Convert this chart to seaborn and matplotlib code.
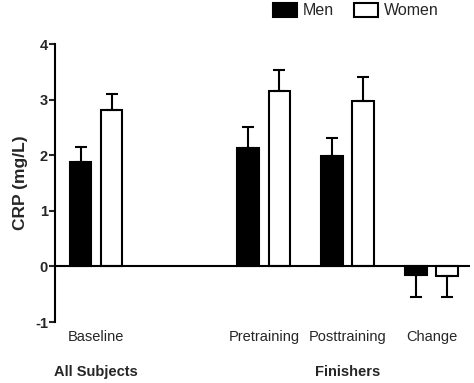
import matplotlib
matplotlib.use("Agg")
import matplotlib.pyplot as plt
import seaborn as sns
import pandas as pd
import numpy as np
from matplotlib.patches import Patch

sns.set_style("white")
plt.rcParams['font.family'] = ['Liberation Sans', 'DejaVu Sans']

categories = ["Baseline", "", "Pretraining", "Posttraining", "Change"]
men_values = [1.88, np.nan, 2.13, 1.98, -0.16]
men_err = [0.27, np.nan, 0.38, 0.33, 0.39]
women_values = [2.82, np.nan, 3.15, 2.97, -0.17]
women_err = [0.29, np.nan, 0.39, 0.44, 0.37]
series = ["Men", "Women"]
group_labels = ["All Subjects", "Finishers"]
group_at = ["Baseline", "Posttraining"]

rows = []
for i, c in enumerate(categories):
    rows.append({"cat": c, "sex": "Men", "val": men_values[i], "err": men_err[i]})
    rows.append({"cat": c, "sex": "Women", "val": women_values[i], "err": women_err[i]})
df = pd.DataFrame(rows)

fig = plt.figure(figsize=(4.74, 3.83), dpi=100)
ax = fig.add_axes([0.116, 0.159, 0.876, 0.726])

sns.barplot(data=df, x="cat", y="val", hue="sex", order=categories,
            hue_order=series, palette={"Men": "black", "Women": "white"},
            edgecolor="black", linewidth=1.5, width=0.74, gap=0.3,
            errorbar=None, legend=False, ax=ax)

# one-sided error bars, matched to each bar by its category slot and side
errs = {"Men": men_err, "Women": women_err}
vals = {"Men": men_values, "Women": women_values}
for bar in ax.patches:
    h = bar.get_height()
    if np.isnan(h) or bar.get_width() == 0:
        continue
    xc = bar.get_x() + bar.get_width() / 2
    idx = int(round(xc))
    s = "Men" if xc < idx else "Women"
    v = vals[s][idx]
    e = errs[s][idx]
    if np.isnan(v):
        continue
    yerr = [[0], [e]] if v >= 0 else [[e], [0]]
    ax.errorbar([xc], [v], yerr=yerr, fmt="none", ecolor="black",
                elinewidth=1.5, capsize=4.3, capthick=1.5, zorder=1)

ax.set_xlim(-0.49, 4.46)
ax.set_ylim(-1, 4)
ax.axhline(0, color="black", lw=1.5, zorder=3)
ax.set_yticks([-1, 0, 1, 2, 3, 4])
ax.set_yticklabels(["-1", "0", "1", "2", "3", "4"], fontweight="bold", fontsize=10.5)
ax.set_ylabel("CRP (mg/L)", fontweight="bold", fontsize=12.5, labelpad=5)
ax.set_xlabel("")
ax.tick_params(axis="y", direction="out", length=4, width=1.5, left=True, pad=1)
ax.tick_params(axis="x", length=0, labelsize=10.5, pad=6)
for sp in ["top", "right", "bottom"]:
    ax.spines[sp].set_visible(False)
ax.spines["left"].set_linewidth(1.5)
ax.spines["left"].set_color("black")

for lbl, at in zip(group_labels, group_at):
    ax.text(categories.index(at), -1.9, lbl, ha="center", va="center",
            fontweight="bold", fontsize=10.5, transform=ax.transData)

handles = [Patch(facecolor="black", edgecolor="black", lw=1.5, label="Men"),
           Patch(facecolor="white", edgecolor="black", lw=1.5, label="Women")]
fig.legend(handles=handles, loc="upper left", bbox_to_anchor=(0.545, 1.03),
           ncol=2, frameon=False, fontsize=11.5, handlelength=1.5,
           handleheight=0.95, handletextpad=0.35, columnspacing=1.3)

fig.savefig("out.png", dpi=100)
